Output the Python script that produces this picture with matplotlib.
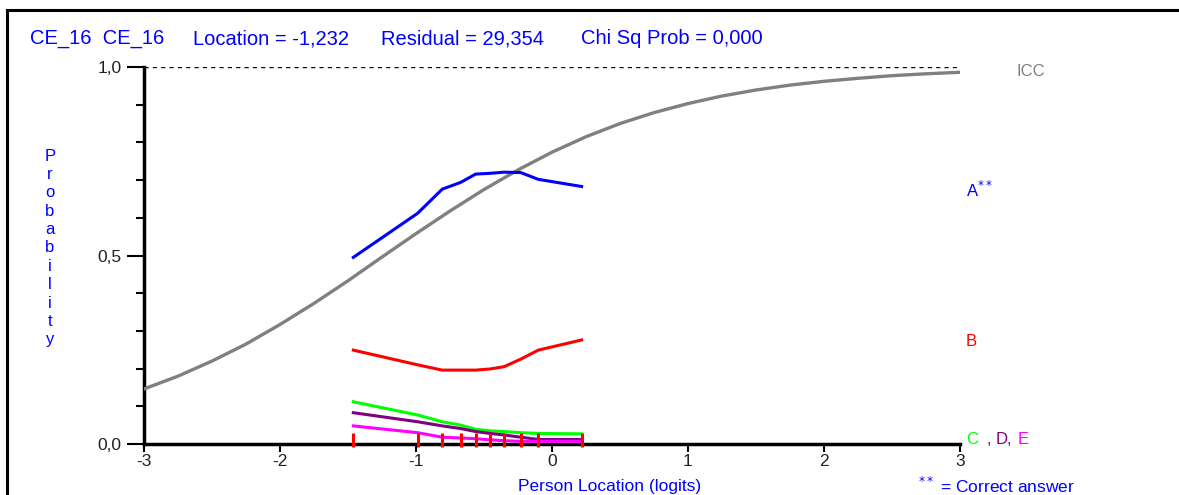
import matplotlib.pyplot as plt
from matplotlib.lines import Line2D
import numpy as np

plt.rcParams['font.family'] = ['Liberation Sans Narrow', 'Liberation Sans', 'DejaVu Sans']

# ICC every 0.25 logit
icc_x = [-3.0, -2.75, -2.5, -2.25, -2.0, -1.75, -1.5, -1.25, -1.0, -0.75, -0.5, -0.25, 0.0,
         0.25, 0.5, 0.75, 1.0, 1.25, 1.5, 1.75, 2.0, 2.25, 2.5, 2.75, 3.0]
icc_y = [0.146, 0.180, 0.220, 0.265, 0.317, 0.373, 0.433, 0.496, 0.558, 0.618, 0.675, 0.727, 0.774,
         0.815, 0.850, 0.879, 0.903, 0.923, 0.939, 0.952, 0.962, 0.970, 0.977, 0.982, 0.986]

# class interval locations (red ticks)
class_x = [-1.461, -0.988, -0.807, -0.671, -0.561, -0.456, -0.353, -0.230, -0.101, 0.218]

# observed proportions per option
opt_a = [0.495, 0.612, 0.676, 0.694, 0.716, 0.718, 0.721, 0.720, 0.702, 0.683]
opt_b = [0.249, 0.210, 0.196, 0.196, 0.196, 0.199, 0.205, 0.225, 0.249, 0.276]
opt_c = [0.112, 0.077, 0.059, 0.050, 0.039, 0.035, 0.033, 0.030, 0.028, 0.027]
opt_d = [0.083, 0.059, 0.048, 0.041, 0.033, 0.028, 0.024, 0.018, 0.012, 0.012]
opt_e = [0.048, 0.030, 0.018, 0.016, 0.014, 0.011, 0.009, 0.007, 0.007, 0.007]

x_ticks = [-3, -2, -1, 0, 1, 2, 3]
y_ticks = [0.0, 0.5, 1.0]
y_labels = ['0,0', '0,5', '1,0']

title_parts = ['CE_16  CE_16', 'Location = -1,232', 'Residual = 29,354', 'Chi Sq Prob = 0,000']
title_px = [30, 193, 381, 581]

BLUE = '#0000ff'
RED = '#ff0000'
GREEN = '#00ff00'
PURPLE = '#800080'
MAGENTA = '#ff00ff'
GRAY = '#808080'
W, H = 1179, 495

fig = plt.figure(figsize=(11.79, 4.95), dpi=100)
ax = fig.add_axes([144 / W, 1 - 444 / H, 816 / W, 377 / H])

# outer frame (top and left only)
fig.add_artist(Line2D([7 / W, 1.0], [1 - 10 / H, 1 - 10 / H], color='black', lw=2.2,
                      transform=fig.transFigure))
fig.add_artist(Line2D([7 / W, 7 / W], [0.0, 1 - 10 / H], color='black', lw=2.2,
                      transform=fig.transFigure))

ax.plot(icc_x, icc_y, color=GRAY, lw=2.4, zorder=3)
ax.plot(class_x, opt_a, color=BLUE, lw=2.2, zorder=4)
ax.plot(class_x, opt_b, color=RED, lw=2.2, zorder=4)
ax.plot(class_x, opt_c, color=GREEN, lw=2.2, zorder=4)
ax.plot(class_x, opt_d, color=PURPLE, lw=2.2, zorder=4)
ax.plot(class_x, opt_e, color=MAGENTA, lw=2.2, zorder=4)

# class interval markers
ax.vlines(class_x, -0.008, 0.028, color=RED, lw=2.2, zorder=5, clip_on=False)

# dashed line at 1.0
ax.plot([-3, 3], [1.0, 1.0], color='black', lw=1.0, ls=(0, (3, 3)), zorder=2)

ax.set_xlim(-3, 3)
ax.set_ylim(0, 1)
for s in ['top', 'right']:
    ax.spines[s].set_visible(False)
ax.spines['left'].set_linewidth(2.5)
ax.spines['bottom'].set_linewidth(2.5)

ax.set_xticks(x_ticks)
ax.set_xticklabels(['%d' % v for v in x_ticks])
ax.set_yticks(y_ticks)
ax.set_yticklabels(y_labels)
ax.set_yticks(np.arange(0.1, 1.0, 0.1), minor=True)
ax.tick_params(axis='y', which='major', length=12, width=1.5, direction='out',
               labelsize=12.5, labelcolor='#222222', pad=4)
ax.tick_params(axis='y', which='minor', length=6, width=1.5, direction='out')
ax.tick_params(axis='x', which='major', length=6, width=1.5, direction='out',
               labelsize=12.5, labelcolor='#222222', pad=1)

# texts
for part, px in zip(title_parts, title_px):
    fig.text(px / W, 1 - 39 / H, part, color=BLUE, fontsize=14.5, va='center', ha='left')
fig.text(50 / W, 1 - 248 / H, '\n'.join('Probability'), color=BLUE, fontsize=12,
         va='center', ha='center', linespacing=1.28)
fig.text(610 / W, 1 - 486 / H, 'Person Location (logits)', color=BLUE, fontsize=12.5,
         va='center', ha='center')
fig.text(918 / W, 1 - 486 / H, '$^{**}$ = Correct answer', color=BLUE, fontsize=12.5,
         va='center', ha='left')
fig.text(1017 / W, 1 - 72 / H, 'ICC', color=GRAY, fontsize=12, va='center', ha='left')
fig.text(966 / W, 1 - 190 / H, 'A$^{**}$', color=BLUE, fontsize=12, va='center', ha='left')
fig.text(966 / W, 1 - 341 / H, 'B', color=RED, fontsize=12, va='center', ha='left')
fig.text(966 / W, 1 - 440 / H, 'C', color=GREEN, fontsize=12, va='center', ha='left')
fig.text(987 / W, 1 - 440 / H, ',', color=PURPLE, fontsize=12, va='center', ha='left')
fig.text(996 / W, 1 - 440 / H, 'D,', color=PURPLE, fontsize=12, va='center', ha='left')
fig.text(1018 / W, 1 - 440 / H, 'E', color=MAGENTA, fontsize=12, va='center', ha='left')

fig.savefig('out.png', dpi=100)
